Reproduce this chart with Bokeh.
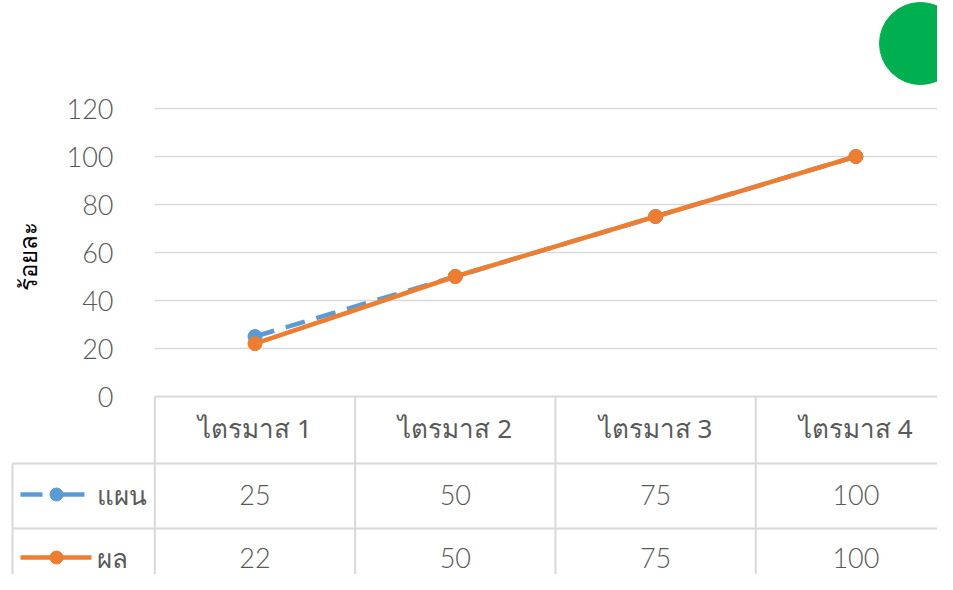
from bokeh.plotting import figure
from bokeh.models import ColumnDataSource, Range1d
from bokeh.embed import file_html
from bokeh.resources import INLINE
from bokeh.core.properties import value

categories = ["ไตรมาส 1", "ไตรมาส 2", "ไตรมาส 3", "ไตรมาส 4"]
plan = [25, 50, 75, 100]
result = [22, 50, 75, 100]
series_names = ["แผน", "ผล"]
y_ticks = [0, 20, 40, 60, 80, 100, 120]
y_title = "ร้อยละ"

W, H = 937, 574
col_px = 200.3
x0_px = 254.5
unit_px = 2.4
zero_px = 396

xs = list(range(len(categories)))
x_start = -x0_px / col_px
x_end = x_start + W / col_px
y_top = zero_px / unit_px
y_bot = (zero_px - H) / unit_px

def px_x(px):
    return x_start + px / col_px

def px_y(py):
    return (zero_px - py) / unit_px

p = figure(width=W, height=H, output_backend="svg", toolbar_location=None,
           x_range=Range1d(x_start, x_end), y_range=Range1d(y_bot, y_top),
           min_border=0, outline_line_color=None)
p.axis.visible = False
p.grid.visible = False
p.background_fill_color = "white"

NUM_FONT = value("'Lato Light', 'Noto Sans'")
THAI_FONT = value("Noto Sans")
GRAY = "#595959"
GRID = "#d9d9d9"

# gridlines
for t in y_ticks[1:]:
    p.line([-0.5, x_end], [t, t], line_color=GRID, line_width=1.5)

# tick labels
p.text(x=[px_x(113)] * len(y_ticks), y=y_ticks, text=[str(t) for t in y_ticks],
       text_align="right", text_baseline="middle", text_font=NUM_FONT,
       text_font_size="27px", text_color=GRAY)

# y title
p.text(x=[px_x(27)], y=[px_y(256)], text=[y_title], angle=1.5708,
       text_align="center", text_baseline="middle", text_font=THAI_FONT,
       text_font_size="24px", text_color="#000000")

# data table
r1 = px_y(463)
r2 = px_y(528)
left = px_x(12)
p.line([-0.5, x_end], [0, 0], line_color=GRID, line_width=2)
p.line([left, x_end], [r1, r1], line_color=GRID, line_width=2)
p.line([left, x_end], [r2, r2], line_color=GRID, line_width=2)
p.line([left, left], [r1, y_bot], line_color=GRID, line_width=2)
for i in range(len(categories)):
    p.line([i - 0.5, i - 0.5], [0, y_bot], line_color=GRID, line_width=2)

hy = px_y(427)
ly1 = px_y(494)
ly2 = px_y(557)
p.text(x=xs, y=[hy] * 4, text=categories, text_align="center",
       text_baseline="middle", text_font=THAI_FONT, text_font_size="26px", text_color=GRAY)
p.text(x=xs, y=[ly1] * 4, text=[str(v) for v in plan], text_align="center",
       text_baseline="middle", text_font=NUM_FONT, text_font_size="27px", text_color=GRAY)
p.text(x=xs, y=[ly2] * 4, text=[str(v) for v in result], text_align="center",
       text_baseline="middle", text_font=NUM_FONT, text_font_size="27px", text_color=GRAY)

# legend keys
BLUE = "#5b9bd5"
ORANGE = "#ed7d31"
p.line([px_x(20), px_x(42)], [ly1, ly1], line_color=BLUE, line_width=4.5)
p.line([px_x(50), px_x(84)], [ly1, ly1], line_color=BLUE, line_width=4.5)
p.scatter([px_x(56)], [ly1], size=13, color=BLUE)
p.line([px_x(20), px_x(91)], [ly2, ly2], line_color=ORANGE, line_width=4.5)
p.scatter([px_x(56)], [ly2], size=13, color=ORANGE)
p.text(x=[px_x(96)] * 2, y=[ly1, ly2], text=series_names, text_align="left",
       text_baseline="middle", text_font=THAI_FONT, text_font_size="26px", text_color=GRAY)

# series
src = ColumnDataSource(dict(x=xs, plan=plan, result=result))
p.line("x", "plan", source=src, line_color=BLUE, line_width=4.5, line_dash="20 12")
p.scatter("x", "plan", source=src, size=14, color=BLUE)
p.line("x", "result", source=src, line_color=ORANGE, line_width=4.5)
p.scatter("x", "result", source=src, size=14, color=ORANGE)

# green status dot
p.scatter([px_x(920)], [px_y(43)], size=82, color="#00b050")

open("out.html", "w").write(file_html(p, INLINE))
